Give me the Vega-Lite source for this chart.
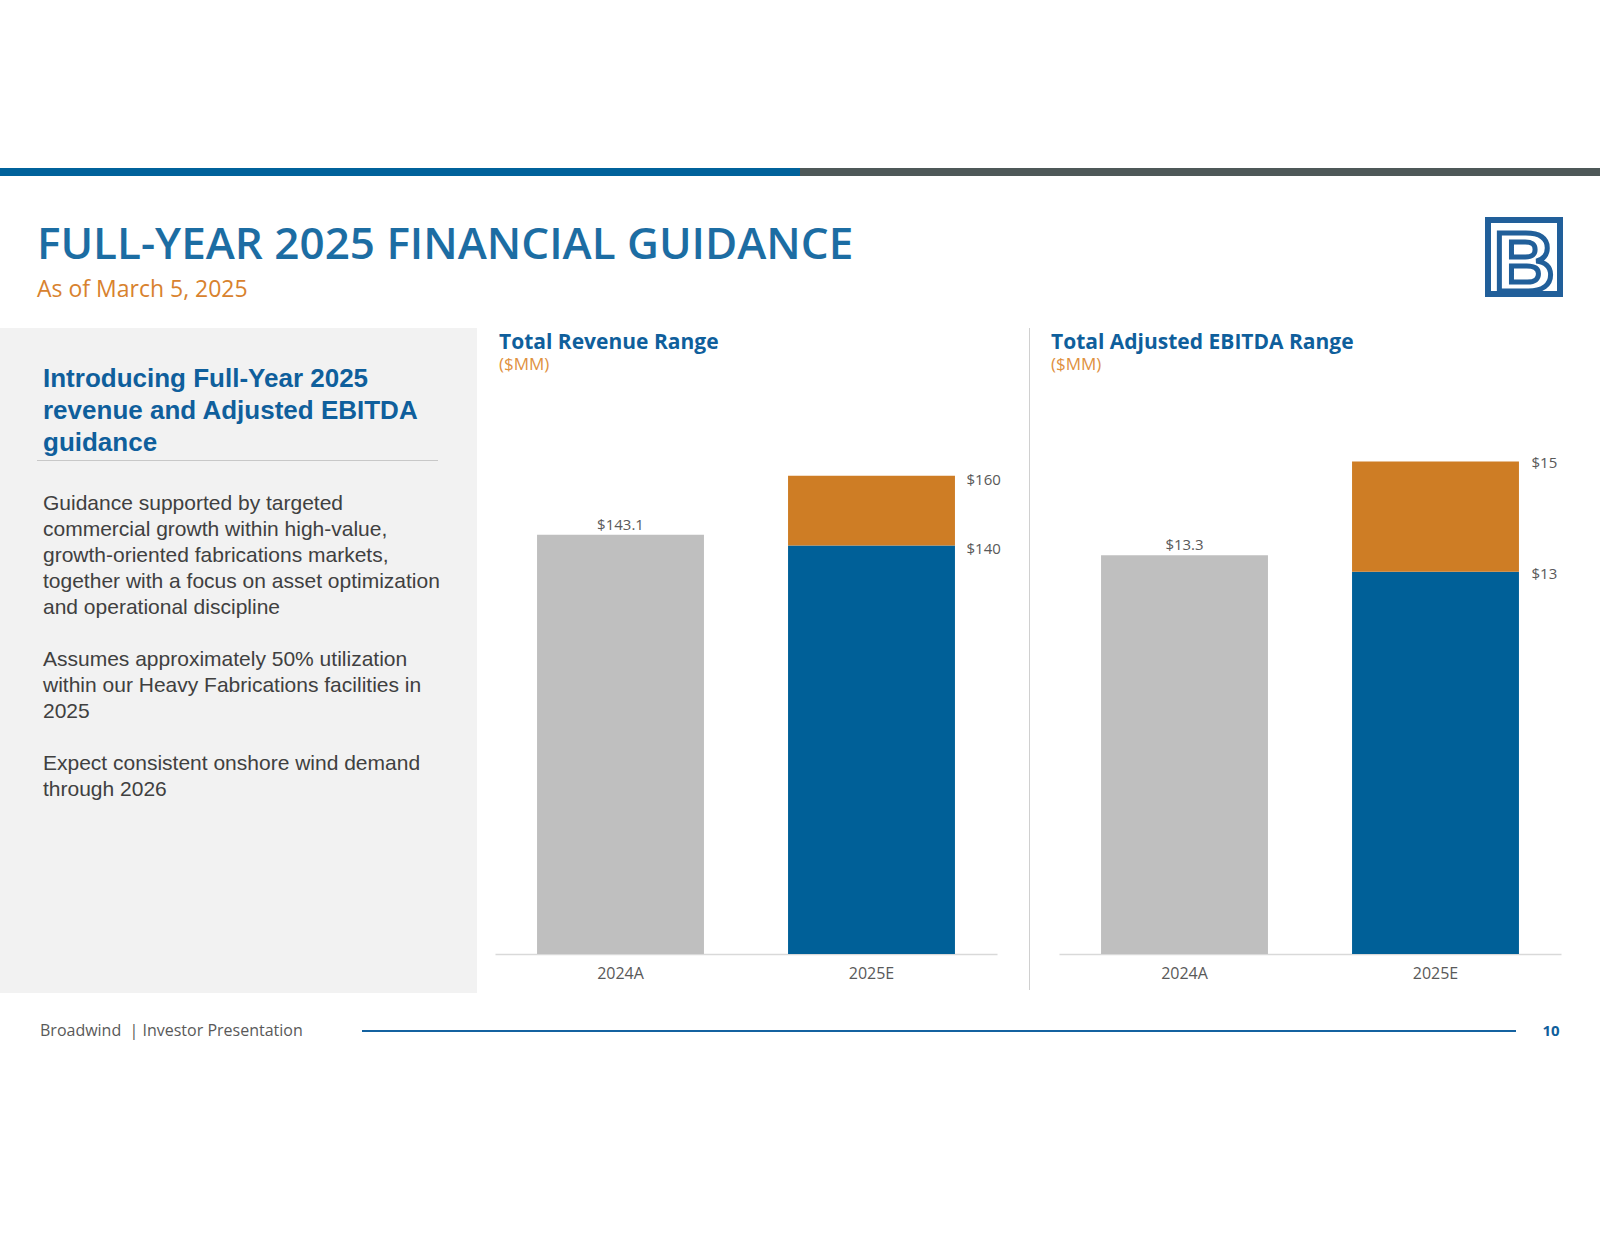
{
  "$schema": "https://vega.github.io/schema/vega-lite/v6.json",
  "background": "white",
  "padding": {"top": 168, "left": 0, "right": 0, "bottom": 0},
  "config": {"view": {"stroke": null}, "concat": {"spacing": 0}, "font": "Open Sans"},
  "spacing": 0,
  "vconcat": [
    {
      "spacing": 0,
      "hconcat": [
        {"width": 800, "height": 8, "view": {"fill": "#00629b", "stroke": null}, "data": {"values": []}, "mark": "point"},
        {"width": 800, "height": 8, "view": {"fill": "#4e5858", "stroke": null}, "data": {"values": []}, "mark": "point"}
      ]
    },
    {
      "spacing": 0,
      "hconcat": [
        {
          "width": 1485,
          "height": 152,
          "layer": [
            {
              "data": {"values": [{"t": "FULL-YEAR 2025 FINANCIAL GUIDANCE"}]},
              "mark": {"type": "text", "align": "left", "baseline": "alphabetic", "dx": -705.5, "dy": 7, "font": "Open Sans", "fontWeight": 600, "fontSize": 44, "color": "#1c6da3"},
              "encoding": {"text": {"field": "t"}}
            },
            {
              "data": {"values": [{"t": "As of March 5, 2025"}]},
              "mark": {"type": "text", "align": "left", "baseline": "alphabetic", "dx": -705.5, "dy": 45, "font": "Open Sans", "fontSize": 23, "color": "#d8822e"},
              "encoding": {"text": {"field": "t"}}
            }
          ]
        },
        {
          "spacing": 0,
          "vconcat": [
            {"width": 72, "height": 41, "data": {"values": []}, "mark": "point"},
            {
              "width": 72,
              "height": 74,
              "view": {"stroke": "#215f9a", "strokeWidth": 6, "fill": "white"},
              "data": {"values": [{"t": "B"}]},
              "mark": {"type": "text", "align": "center", "baseline": "alphabetic", "dy": 34, "font": "Liberation Sans", "fontWeight": "bold", "fontSize": 84, "fill": "white", "stroke": "#215f9a", "strokeWidth": 5},
              "encoding": {"text": {"field": "t"}}
            }
          ]
        }
      ]
    },
    {
      "spacing": 0,
      "hconcat": [
        {
          "spacing": 0,
          "vconcat": [
            {
              "width": 477,
              "height": 132,
              "view": {"fill": "#f2f2f2", "stroke": null},
              "data": {"values": [{"t": "Introducing Full-Year 2025\nrevenue and Adjusted EBITDA\nguidance"}]},
              "mark": {"type": "text", "lineBreak": "\n", "lineHeight": 32, "align": "left", "baseline": "alphabetic", "dx": -195.5, "dy": -7, "font": "Liberation Sans", "fontWeight": "bold", "fontSize": 26, "color": "#0f5f9c"},
              "encoding": {"text": {"field": "t"}}
            },
            {
              "spacing": 0,
              "hconcat": [
                {"width": 37, "height": 1, "view": {"fill": "#f2f2f2", "stroke": null}, "data": {"values": []}, "mark": "point"},
                {"width": 401, "height": 1, "view": {"fill": "#c8c8c8", "stroke": null}, "data": {"values": []}, "mark": "point"},
                {"width": 39, "height": 1, "view": {"fill": "#f2f2f2", "stroke": null}, "data": {"values": []}, "mark": "point"}
              ]
            },
            {
              "width": 477,
              "height": 532,
              "view": {"fill": "#f2f2f2", "stroke": null},
              "layer": [
                {
                  "data": {"values": [{"t": "Guidance supported by targeted\ncommercial growth within high-value,\ngrowth-oriented fabrications markets,\ntogether with a focus on asset optimization\nand operational discipline"}]},
                  "mark": {"type": "text", "lineBreak": "\n", "lineHeight": 26, "align": "left", "baseline": "alphabetic", "dx": -195.5, "dy": -217.5, "font": "Liberation Sans", "fontSize": 21, "color": "#404040"},
                  "encoding": {"text": {"field": "t"}}
                },
                {
                  "data": {"values": [{"t": "Assumes approximately 50% utilization\nwithin our Heavy Fabrications facilities in\n2025"}]},
                  "mark": {"type": "text", "lineBreak": "\n", "lineHeight": 26, "align": "left", "baseline": "alphabetic", "dx": -195.5, "dy": -61.5, "font": "Liberation Sans", "fontSize": 21, "color": "#404040"},
                  "encoding": {"text": {"field": "t"}}
                },
                {
                  "data": {"values": [{"t": "Expect consistent onshore wind demand\nthrough 2026"}]},
                  "mark": {"type": "text", "lineBreak": "\n", "lineHeight": 26, "align": "left", "baseline": "alphabetic", "dx": -195.5, "dy": 42.5, "font": "Liberation Sans", "fontSize": 21, "color": "#404040"},
                  "encoding": {"text": {"field": "t"}}
                }
              ]
            }
          ]
        },
        {"width": 18, "height": 1, "data": {"values": []}, "mark": "point"},
        {
          "width": 502,
          "height": 626,
          "layer": [
            {
              "data": {"values": [
                {"year": "2024A", "segment": "Actual", "start": 0, "end": 143.1},
                {"year": "2025E", "segment": "Low", "start": 0, "end": 140},
                {"year": "2025E", "segment": "Range", "start": 140, "end": 160}
              ]},
              "encoding": {
                "x": {"field": "year", "type": "nominal", "scale": {"paddingInner": 0.335, "paddingOuter": 0.1675}, "axis": {"title": null, "labelAngle": 0, "domainColor": "#d9d9d9", "domainWidth": 1.5, "ticks": false, "tickSize": 0, "labelPadding": 11, "labelFontSize": 16, "labelFont": "Open Sans", "labelColor": "#595959", "grid": false}},
                "y": {"field": "end", "type": "quantitative", "scale": {"domain": [22.8, 202.4], "zero": false, "nice": false}, "axis": null}
              },
              "layer": [
                {
                  "mark": {"type": "bar", "clip": true},
                  "encoding": {
                    "y2": {"field": "start"},
                    "color": {"field": "segment", "type": "nominal", "scale": {"domain": ["Actual", "Low", "Range"], "range": ["#bfbfbf", "#006098", "#ce7d25"]}, "legend": null}
                  }
                },
                {
                  "transform": [{"filter": "datum.segment == 'Actual'"}],
                  "mark": {"type": "text", "align": "center", "baseline": "alphabetic", "dy": -5, "fontSize": 15, "font": "Open Sans", "color": "#595959"},
                  "encoding": {"text": {"field": "end", "type": "quantitative", "format": "$~g"}}
                },
                {
                  "transform": [{"filter": "datum.year == '2025E'"}],
                  "mark": {"type": "text", "align": "left", "baseline": "middle", "dx": 95, "dy": 4, "fontSize": 15, "font": "Open Sans", "color": "#595959"},
                  "encoding": {"text": {"field": "end", "type": "quantitative", "format": "$~g"}}
                }
              ]
            },
            {
              "data": {"values": [{"t": "Total Revenue Range"}]},
              "mark": {"type": "text", "align": "left", "baseline": "alphabetic", "dx": -247, "dy": -292, "font": "Open Sans", "fontWeight": "bold", "fontSize": 21, "color": "#0f5f9c"},
              "encoding": {"text": {"field": "t"}}
            },
            {
              "data": {"values": [{"t": "($MM)"}]},
              "mark": {"type": "text", "align": "left", "baseline": "alphabetic", "dx": -247, "dy": -271, "font": "Open Sans", "fontSize": 17, "color": "#e0913f"},
              "encoding": {"text": {"field": "t"}}
            }
          ]
        },
        {"width": 28, "height": 1, "data": {"values": []}, "mark": "point"},
        {"width": 1, "height": 662, "view": {"fill": "#d0d0d0", "stroke": null}, "data": {"values": []}, "mark": "point"},
        {"width": 21, "height": 1, "data": {"values": []}, "mark": "point"},
        {
          "width": 502,
          "height": 626,
          "layer": [
            {
              "data": {"values": [
                {"year": "2024A", "segment": "Actual", "start": 0, "end": 13.3},
                {"year": "2025E", "segment": "Low", "start": 0, "end": 13},
                {"year": "2025E", "segment": "Range", "start": 13, "end": 15}
              ]},
              "encoding": {
                "x": {"field": "year", "type": "nominal", "scale": {"paddingInner": 0.335, "paddingOuter": 0.1675}, "axis": {"title": null, "labelAngle": 0, "domainColor": "#d9d9d9", "domainWidth": 1.5, "ticks": false, "tickSize": 0, "labelPadding": 11, "labelFontSize": 16, "labelFont": "Open Sans", "labelColor": "#595959", "grid": false}},
                "y": {"field": "end", "type": "quantitative", "scale": {"domain": [6.07, 17.42], "zero": false, "nice": false}, "axis": null}
              },
              "layer": [
                {
                  "mark": {"type": "bar", "clip": true},
                  "encoding": {
                    "y2": {"field": "start"},
                    "color": {"field": "segment", "type": "nominal", "scale": {"domain": ["Actual", "Low", "Range"], "range": ["#bfbfbf", "#006098", "#ce7d25"]}, "legend": null}
                  }
                },
                {
                  "transform": [{"filter": "datum.segment == 'Actual'"}],
                  "mark": {"type": "text", "align": "center", "baseline": "alphabetic", "dy": -5, "fontSize": 15, "font": "Open Sans", "color": "#595959"},
                  "encoding": {"text": {"field": "end", "type": "quantitative", "format": "$~g"}}
                },
                {
                  "transform": [{"filter": "datum.year == '2025E'"}],
                  "mark": {"type": "text", "align": "left", "baseline": "middle", "dx": 96, "dy": 2, "fontSize": 15, "font": "Open Sans", "color": "#595959"},
                  "encoding": {"text": {"field": "end", "type": "quantitative", "format": "$~g"}}
                }
              ]
            },
            {
              "data": {"values": [{"t": "Total Adjusted EBITDA Range"}]},
              "mark": {"type": "text", "align": "left", "baseline": "alphabetic", "dx": -259, "dy": -292, "font": "Open Sans", "fontWeight": "bold", "fontSize": 21, "color": "#0f5f9c"},
              "encoding": {"text": {"field": "t"}}
            },
            {
              "data": {"values": [{"t": "($MM)"}]},
              "mark": {"type": "text", "align": "left", "baseline": "alphabetic", "dx": -259, "dy": -271, "font": "Open Sans", "fontSize": 17, "color": "#e0913f"},
              "encoding": {"text": {"field": "t"}}
            }
          ]
        }
      ]
    },
    {
      "spacing": 0,
      "center": true,
      "hconcat": [
        {
          "width": 362,
          "height": 76,
          "data": {"values": [{"t": "Broadwind\u00a0 | Investor Presentation"}]},
          "mark": {"type": "text", "align": "left", "baseline": "middle", "dx": -141, "font": "Open Sans", "fontSize": 16, "color": "#595959"},
          "encoding": {"text": {"field": "t"}}
        },
        {"width": 1154, "height": 2, "view": {"fill": "#1462a0", "stroke": null}, "data": {"values": []}, "mark": "point"},
        {
          "width": 70,
          "height": 76,
          "data": {"values": [{"t": "10"}]},
          "mark": {"type": "text", "align": "center", "baseline": "middle", "font": "Open Sans", "fontWeight": "bold", "fontSize": 15, "color": "#0f5f9c"},
          "encoding": {"text": {"field": "t"}}
        }
      ]
    }
  ]
}
